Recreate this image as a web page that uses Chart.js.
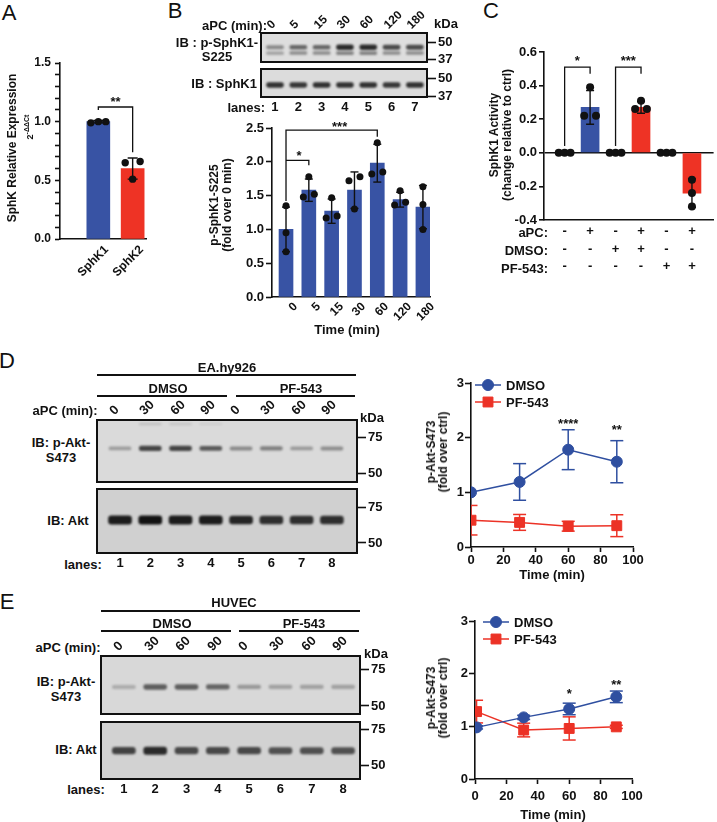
<!DOCTYPE html>
<html><head><meta charset="utf-8">
<script src="https://cdn.jsdelivr.net/npm/chart.js@4.4.1/dist/chart.umd.min.js"></script>
<style>
html,body{margin:0;padding:0;background:#fff;}
body{width:717px;height:822px;position:relative;overflow:hidden;}
canvas{position:absolute;}
.lb{position:absolute;white-space:nowrap;color:#111;}
.rl{position:absolute;white-space:nowrap;color:#111;}
.hl{position:absolute;height:1.6px;background:#111;}
</style></head><body>
<script>
// ================= DATA =================
// Panel A
const aCats = ['SphK1', 'SphK2'];
const aMeans = [1.00, 0.60];
const aSD = [0.01, 0.09];
const aPoints = [[0.99, 1.00, 1.00], [0.66, 0.65, 0.51]];
const aYTicks = [0, 0.1, 0.2, 0.3, 0.4, 0.5, 0.6, 0.7, 0.8, 0.9, 1.0, 1.1, 1.2, 1.3, 1.4, 1.5];

// Panel B
const bTimes = ['0', '5', '15', '30', '60', '120', '180'];
const bMeans = [1.00, 1.58, 1.27, 1.58, 1.98, 1.44, 1.33];
const bSD = [0.33, 0.165, 0.18, 0.27, 0.28, 0.11, 0.32];
const bPoints = [[1.35, 0.95, 0.67], [1.78, 1.52, 1.48], [1.47, 1.20, 1.17], [1.78, 1.72, 1.30],
                 [2.28, 1.85, 1.82], [1.57, 1.40, 1.36], [1.63, 1.37, 1.00]];
const bYTicks = [0, 0.5, 1.0, 1.5, 2.0, 2.5];
const bLanes = ['1', '2', '3', '4', '5', '6', '7'];
const bBandPUpper = [0.42, 0.58, 0.58, 0.88, 0.88, 0.72, 0.72];
const bBandPLower = [0.30, 0.40, 0.40, 0.45, 0.45, 0.40, 0.40];
const bBandTotal = [0.85, 0.82, 0.85, 0.85, 0.85, 0.82, 0.85];
const bKdaMarks = [50, 37];

// Panel C
const cMeans = [0, 0.27, 0, 0.27, 0, -0.24];
const cSD = [0, 0.10, 0, 0.035, 0, 0.085];
const cPoints = [[0, 0, 0], [0.39, 0.22, 0.22], [0, 0, 0], [0.31, 0.26, 0.26], [0, 0, 0], [-0.16, -0.24, -0.32]];
const cAPC = ['-', '+', '-', '+', '-', '+'];
const cDMSO = ['-', '-', '+', '+', '-', '-'];
const cPF = ['-', '-', '-', '-', '+', '+'];
const cYTicks = [-0.4, -0.2, 0, 0.2, 0.4, 0.6];

// Panel D
const akTimeLabels = ['0', '30', '60', '90', '0', '30', '60', '90'];
const akLanes = ['1', '2', '3', '4', '5', '6', '7', '8'];
const akKdaMarks = [75, 50];
const dBandPAkt = [0.30, 0.75, 0.75, 0.65, 0.40, 0.45, 0.32, 0.38];
const dBandFaint = [0, 0.12, 0.10, 0.07, 0, 0, 0, 0];
const dBandAkt = [0.95, 1.00, 0.95, 0.95, 0.90, 0.85, 0.85, 0.85];
const dTime = [0, 30, 60, 90];
const dDMSO = [1.00, 1.19, 1.78, 1.56];
const dDMSOsd = [0, 0.335, 0.365, 0.385];
const dPF = [0.49, 0.45, 0.38, 0.39];
const dPFsd = [0.27, 0.145, 0.09, 0.20];
const lineXTicks = [0, 20, 40, 60, 80, 100];
const lineYTicks = [0, 1, 2, 3];

// Panel E
const eBandPAkt = [0.22, 0.62, 0.62, 0.58, 0.32, 0.28, 0.28, 0.28];
const eBandAkt = [0.75, 0.88, 0.72, 0.72, 0.72, 0.68, 0.68, 0.68];
const eTime = [1, 31, 60, 90];
const eDMSO = [0.98, 1.17, 1.33, 1.56];
const eDMSOsd = [0.03, 0.04, 0.11, 0.11];
const ePF = [1.28, 0.93, 0.96, 0.99];
const ePFsd = [0.215, 0.13, 0.22, 0.03];

// ================= STYLE / HELPERS =================
const FONT = '"Liberation Sans", Arial, Helvetica, sans-serif';
const BLUE = '#3853a4', RED = '#ee3325', LBLUE = '#2f4fa0', LRED = '#ec3226', BLK = '#111';
const AXW = 1.6;

Chart.defaults.font.family = FONT;
Chart.defaults.font.size = 12;
Chart.defaults.font.weight = 'bold';
Chart.defaults.color = BLK;
Chart.defaults.animation = false;
Chart.defaults.events = [];
Chart.defaults.plugins.legend.display = false;
Chart.defaults.plugins.tooltip.enabled = false;

function canvasAt(x, y, w, h) {
  const c = document.createElement('canvas');
  c.width = Math.round(w); c.height = Math.round(h);
  c.style.left = Math.round(x) + 'px'; c.style.top = Math.round(y) + 'px';
  c.style.width = Math.round(w) + 'px'; c.style.height = Math.round(h) + 'px';
  document.body.appendChild(c);
  return c;
}
function txt(html, x, y, o = {}) {
  const d = document.createElement('div');
  d.className = 'lb';
  const s = o.size || 13, lh = o.lh || s;
  const tx = o.align === 'right' ? '-100%' : o.align === 'left' ? '0' : '-50%';
  d.style.left = x + 'px'; d.style.top = y + 'px';
  d.style.font = `${o.weight || 'bold'} ${s}px/${lh}px ${FONT}`;
  d.style.textAlign = o.ta || 'center';
  d.style.transform = `translate(${tx},-50%)` + (o.rot ? ` rotate(${o.rot}deg)` : '');
  d.innerHTML = html;
  document.body.appendChild(d);
}
function hline(x1, x2, y) {
  const d = document.createElement('div');
  d.className = 'hl';
  d.style.left = x1 + 'px'; d.style.top = (y - 0.8) + 'px'; d.style.width = (x2 - x1) + 'px';
  document.body.appendChild(d);
}
const ticksAt = arr => (s => { s.ticks = arr.map(v => ({value: v})); });

// 45-degree tick labels, anchored at the x scale's pixel for each value
function rotLabels(chart, cv, labels, values, o) {
  const sx = chart.scales.x, ca = chart.chartArea;
  const ox = parseFloat(cv.style.left), oy = parseFloat(cv.style.top);
  labels.forEach((lbl, i) => {
    const ax = ox + sx.getPixelForValue(values[i]) + (o.dx || 0);
    const ay = oy + (o.pos === 'top' ? ca.top - o.pad : ca.bottom + o.pad);
    const d = document.createElement('div');
    d.className = 'rl';
    d.textContent = lbl;
    d.style.font = `bold ${o.size}px/${o.size}px ${FONT}`;
    d.style.left = ax + 'px'; d.style.top = ay + 'px';
    if (o.pos === 'top') {
      d.style.transformOrigin = 'left bottom';
      d.style.transform = 'translate(0,-100%) rotate(-45deg)';
    } else {
      d.style.transformOrigin = 'right top';
      d.style.transform = 'translate(-100%,0) rotate(-45deg)';
    }
    document.body.appendChild(d);
  });
}

function jitterOffsets(vals, thr) {
  const idx = vals.map((v, i) => i).sort((a, b) => vals[a] - vals[b]);
  const off = new Array(vals.length).fill(0);
  let start = 0;
  for (let k = 1; k <= idx.length; k++) {
    if (k === idx.length || vals[idx[k]] - vals[idx[k - 1]] >= thr) {
      const cl = idx.slice(start, k), n = cl.length;
      cl.forEach((id, j) => { off[id] = n === 1 ? 0 : (j - (n - 1) / 2) * (2 / (n - 1)); });
      start = k;
    }
  }
  return off;
}
function pointSet(groups, thr, jitUnits, r) {
  const data = [];
  groups.forEach((vals, i) => {
    const off = jitterOffsets(vals, thr);
    vals.forEach((v, k) => data.push({x: i + off[k] * jitUnits, y: v}));
  });
  return {type: 'scatter', data, pointRadius: r, pointBackgroundColor: BLK, pointBorderColor: BLK,
          pointBorderWidth: 0, order: 1};
}
function errorSets(xs, means, sds, color, cap, lw) {
  const out = [];
  xs.forEach((x, i) => {
    if (!(sds[i] > 0)) return;
    out.push({type: 'scatter', showLine: true, order: 5,
      data: [{x, y: means[i] - sds[i]}, {x, y: means[i] + sds[i]}],
      borderColor: color, borderWidth: lw, pointStyle: 'line', pointRadius: cap,
      pointBorderColor: color, pointBackgroundColor: color, pointBorderWidth: lw});
  });
  return out;
}
function bracket(pts) {
  return {type: 'scatter', showLine: true, order: 0, data: pts, borderColor: BLK, borderWidth: 1.3,
          pointRadius: 0};
}

const annotPlugin = {
  id: 'annot',
  afterDatasetsDraw(chart, args, opts) {
    const items = (opts && opts.items) || [];
    const {ctx, scales: {x, y}} = chart;
    items.forEach(it => {
      const s = it.size || 13;
      ctx.save();
      ctx.font = `bold ${s}px ${FONT}`;
      ctx.fillStyle = BLK; ctx.textAlign = 'center'; ctx.textBaseline = 'alphabetic';
      ctx.fillText(it.text, x.getPixelForValue(it.x), y.getPixelForValue(it.y) + 0.5 * s);
      ctx.restore();
    });
  }
};
const legendPlugin = {
  id: 'lineLegend',
  afterDatasetsDraw(chart, args, opts) {
    if (!opts || !opts.items || !opts.items.length) return;
    const {ctx, chartArea: ca} = chart;
    opts.items.forEach((it, i) => {
      const ds = chart.data.datasets[it.ds];
      const x0 = ca.left + opts.left, y0 = ca.top + opts.top + i * opts.gap;
      ctx.save();
      ctx.strokeStyle = ds.borderColor; ctx.lineWidth = ds.borderWidth;
      ctx.beginPath(); ctx.moveTo(x0, y0); ctx.lineTo(x0 + opts.len, y0); ctx.stroke();
      ctx.fillStyle = ds.pointBackgroundColor; ctx.strokeStyle = ds.pointBorderColor; ctx.lineWidth = 1;
      const cx = x0 + opts.len / 2;
      if (Chart.helpers && Chart.helpers.drawPoint) {
        Chart.helpers.drawPoint(ctx, {pointStyle: ds.pointStyle, radius: ds.pointRadius, borderWidth: 1, rotation: 0}, cx, y0);
      } else {
        ctx.beginPath();
        if (ds.pointStyle === 'rect') { const h = ds.pointRadius * Math.SQRT1_2; ctx.rect(cx - h, y0 - h, 2 * h, 2 * h); }
        else ctx.arc(cx, y0, ds.pointRadius, 0, Math.PI * 2);
        ctx.fill();
      }
      ctx.fillStyle = BLK; ctx.font = `bold ${opts.size}px ${FONT}`;
      ctx.textBaseline = 'middle'; ctx.textAlign = 'left';
      ctx.fillText(it.text, x0 + opts.len + opts.textGap, y0 + 1);
      ctx.restore();
    });
  }
};
// blot background, blurred bands and frame
function makeBlotPlugin(cfg) {
  return {
    id: 'blotDraw',
    beforeDatasetsDraw(chart) {
      const {ctx, chartArea: c} = chart;
      ctx.save();
      ctx.fillStyle = cfg.bg; ctx.fillRect(c.left, c.top, c.width, c.height);
      ctx.restore();
      ctx.save();
      ctx.filter = `blur(${cfg.blur}px)`;
    },
    afterDatasetsDraw(chart) {
      const {ctx, chartArea: c} = chart;
      ctx.restore();
      ctx.save();
      ctx.filter = 'none';
      ctx.strokeStyle = BLK; ctx.lineWidth = 2;
      ctx.strokeRect(c.left, c.top, c.width, c.height);
      ctx.restore();
    }
  };
}

// standard chart: left y axis, bottom x axis, plot rectangle given in page pixels
function axisChart(o) {
  const P = o.plot, yw = o.yw, pt = o.pt, pr = o.pr, xh = o.xh;
  const cv = canvasAt(P.L - yw, P.T - pt, P.R - P.L + yw + pr, P.B - P.T + pt + xh);
  const xs = Object.assign({
    type: 'linear', position: 'bottom', bounds: 'data', offset: false,
    afterFit: s => { s.height = xh; },
    border: {display: true, color: BLK, width: AXW},
    grid: {drawOnChartArea: false, offset: false, drawTicks: !!o.xTickLen, tickLength: o.xTickLen || 0,
           tickColor: BLK, tickWidth: AXW}
  }, o.x);
  const ys = Object.assign({
    type: 'linear', position: 'left', bounds: 'data',
    afterFit: s => { s.width = yw; },
    border: {display: true, color: BLK, width: AXW},
    grid: Object.assign({drawOnChartArea: false, drawTicks: true, tickLength: o.yTickLen || 5,
           tickColor: BLK, tickWidth: AXW}, o.yGrid || {})
  }, o.y);
  const ch = new Chart(cv, {
    type: o.type || 'bar',
    data: {datasets: o.datasets},
    options: {
      responsive: false, maintainAspectRatio: false,
      layout: {padding: {left: 0, top: pt, right: pr, bottom: 0}},
      scales: {x: xs, y: ys},
      plugins: {annot: {items: o.annot || []}, lineLegend: o.legend || {items: []}}
    },
    plugins: [annotPlugin, legendPlugin]
  });
  if (o.rot) rotLabels(ch, cv, o.rot.labels, o.rot.labels.map((l, i) => i), o.rot);
  return ch;
}

// western-blot panel drawn as floating bars on a lane x scale and a log kDa scale
function blotChart(b) {
  const [L, T, R, B] = b.box;
  const pl = 2, pr = 4, yw = 32;
  const top = !!b.topLabels, bottom = !!b.bottomLabels;
  const xh = top ? 30 : bottom ? 22 : 0;
  const pt = top ? 0 : 12, pb = bottom ? 0 : 12;
  const cy = top ? T - xh : T - pt;
  const h = (B - T) + (top ? xh : pt) + (bottom ? xh : pb);
  const cv = canvasAt(L - pl, cy, (R - L) + pl + yw + pr, h);
  const nLanes = b.bands[0].ints.length;
  const lanes = Array.from({length: nLanes}, (_, i) => i + 1);
  const ch = new Chart(cv, {
    type: 'bar',
    data: {datasets: b.bands.map(bd => ({
      type: 'bar', grouped: false, barThickness: b.barW, borderRadius: 3, borderSkipped: false,
      data: bd.ints.map((v, i) => {
        const f = 1 + bd.spread * (0.4 + 0.6 * v);
        return {x: i + 1, y: [bd.kda / f, bd.kda * f]};
      }),
      backgroundColor: bd.ints.map(v => `rgba(18,18,18,${Math.min(1, v)})`)
    }))},
    options: {
      responsive: false, maintainAspectRatio: false,
      layout: {padding: {left: pl, right: pr, top: pt, bottom: pb}},
      scales: {
        x: {type: 'linear', position: top ? 'top' : 'bottom', display: top || bottom, bounds: 'data',
            min: b.xmin, max: b.xmax, offset: false,
            afterBuildTicks: ticksAt(lanes), afterFit: s => { s.height = xh; },
            grid: {display: false, drawTicks: false}, border: {display: false},
            ticks: {autoSkip: false, display: bottom, maxRotation: 0, minRotation: 0,
                    padding: 3, font: {size: 13}, callback: (v, i) => (b.bottomLabels || [])[i]}},
        y: {type: 'logarithmic', position: 'right', bounds: 'data', min: b.kBot, max: b.kTop,
            afterBuildTicks: ticksAt(b.marks), afterFit: s => { s.width = yw; },
            grid: {drawOnChartArea: false, drawTicks: true, tickLength: 9, tickColor: BLK, tickWidth: 1.6},
            border: {display: false},
            ticks: {autoSkip: false, padding: 2, font: {size: 13}, callback: v => String(v)}}
      }
    },
    plugins: [makeBlotPlugin(b)]
  });
  if (top) rotLabels(ch, cv, b.topLabels, lanes, {pos: 'top', pad: b.rotPad, dx: b.rotDx, size: b.rotSize});
  return ch;
}

// ================= PANEL LETTERS =================
txt('A', 9, 12.5, {size: 22, weight: 'normal'});
txt('B', 175, 11, {size: 22, weight: 'normal'});
txt('C', 491, 11, {size: 22, weight: 'normal'});
txt('D', 7, 361, {size: 22, weight: 'normal'});
txt('E', 7, 602, {size: 22, weight: 'normal'});

// ================= PANEL A =================
(function () {
  const P = {L: 60, T: 63, R: 147, B: 239};
  const xmin = -1.116, xmax = 1.406;
  const unitPx = (P.R - P.L) / (xmax - xmin);
  axisChart({
    plot: P, yw: 60, pt: 12, pr: 6, xh: 36, yTickLen: 5,
    x: {min: xmin, max: xmax, afterBuildTicks: ticksAt(aCats.map((c, i) => i)),
        ticks: {display: false}},
    y: {min: 0, max: 1.5, afterBuildTicks: ticksAt(aYTicks),
        ticks: {autoSkip: false, padding: 4, font: {size: 12},
                callback: v => Math.abs(v * 2 - Math.round(v * 2)) < 1e-6 ? (+v).toFixed(1) : ''}},
    datasets: [
      {type: 'bar', order: 10, barThickness: 23, data: aMeans.map((m, i) => ({x: i, y: m})),
       backgroundColor: [BLUE, RED]},
      ...errorSets(aCats.map((c, i) => i), aMeans, aSD, BLK, 5, 1.4),
      pointSet(aPoints, 0.04 * 1.5, 7.5 / unitPx, 3.7),
      bracket([{x: 0, y: 1.10}, {x: 0, y: 1.125}, {x: 1, y: 1.125}, {x: 1, y: 0.74}])
    ],
    annot: [{text: '**', x: 0.5, y: 1.19}],
    rot: {labels: aCats, pos: 'bottom', pad: 4, dx: 4, size: 12}
  });
  txt('SphK Relative Expression', 12, 148, {size: 12, rot: -90});
  txt('2<sup style="font-size:7px;line-height:0">-ΔΔCt</sup>', 30, 127, {size: 9, rot: -90});
})();

// ================= PANEL B =================
blotChart({box: [261, 33, 427, 62], xmin: 0.4, xmax: 7.52, kTop: 58.7, kBot: 35.1, marks: bKdaMarks,
  bands: [{kda: 45.6, spread: 0.045, ints: bBandPUpper}, {kda: 41.1, spread: 0.04, ints: bBandPLower}],
  barW: 17, bg: '#dedede', blur: 0.8, topLabels: bTimes, rotPad: 2, rotDx: -2, rotSize: 12});
blotChart({box: [261, 69, 427, 97], xmin: 0.4, xmax: 7.52, kTop: 58.2, kBot: 36.4, marks: bKdaMarks,
  bands: [{kda: 44.5, spread: 0.045, ints: bBandTotal}],
  barW: 17, bg: '#dcdcdc', blur: 0.8, bottomLabels: bLanes});
txt('aPC (min):', 267, 25, {align: 'right'});
txt('IB : p-SphK1-<br>S225', 217, 50, {lh: 14});
txt('IB : SphK1', 257, 83, {align: 'right'});
txt('lanes:', 265, 107, {align: 'right'});
txt('kDa', 446, 23);

(function () {
  const P = {L: 272, T: 128, R: 430, B: 297};
  const xmin = -0.614, xmax = 6.31;
  const unitPx = (P.R - P.L) / (xmax - xmin);
  axisChart({
    plot: P, yw: 40, pt: 12, pr: 12, xh: 26, yTickLen: 6,
    x: {min: xmin, max: xmax, afterBuildTicks: ticksAt(bTimes.map((t, i) => i)),
        ticks: {display: false}},
    y: {min: 0, max: 2.5, afterBuildTicks: ticksAt(bYTicks),
        ticks: {autoSkip: false, padding: 2, font: {size: 13}, callback: v => (+v).toFixed(1)}},
    datasets: [
      {type: 'bar', order: 10, barThickness: 14, data: bMeans.map((m, i) => ({x: i, y: m})),
       backgroundColor: BLUE},
      ...errorSets(bTimes.map((t, i) => i), bMeans, bSD, BLK, 4, 1.4),
      pointSet(bPoints, 0.04 * 2.5, 5.5 / unitPx, 3.5),
      bracket([{x: 0, y: 1.42}, {x: 0, y: 2.47}, {x: 4, y: 2.47}, {x: 4, y: 2.37}]),
      bracket([{x: 0, y: 2.02}, {x: 1, y: 2.02}, {x: 1, y: 1.95}])
    ],
    annot: [{text: '*', x: 0.57, y: 2.13}, {text: '***', x: 2.35, y: 2.55}],
    rot: {labels: bTimes, pos: 'bottom', pad: 3, dx: 5, size: 12}
  });
  txt('p-SphK1-S225<br>(fold over 0 min)', 221, 205, {size: 12, lh: 13, rot: -90});
  txt('Time (min)', 347, 329);
})();

// ================= PANEL C =================
(function () {
  const P = {L: 544, T: 52, R: 717, B: 220};
  const xmin = -0.81, xmax = 5.85;
  const unitPx = (P.R - P.L) / (xmax - xmin);
  axisChart({
    plot: P, yw: 40, pt: 12, pr: 2, xh: 60, yTickLen: 5,
    x: {min: xmin, max: xmax, afterBuildTicks: ticksAt(cMeans.map((m, i) => i)),
        ticks: {autoSkip: false, maxRotation: 0, minRotation: 0, padding: 3,
                font: {size: 13, lineHeight: 1.35},
                callback: (v, i) => [cAPC[i], cDMSO[i], cPF[i]]}},
    y: {min: -0.4, max: 0.6, afterBuildTicks: ticksAt(cYTicks),
        ticks: {autoSkip: false, padding: 2, font: {size: 13}, callback: v => (+v).toFixed(1)}},
    yGrid: {drawOnChartArea: true,
            color: c => (c.tick && Math.abs(c.tick.value) < 1e-9) ? BLK : 'rgba(0,0,0,0)', lineWidth: 1.6},
    datasets: [
      {type: 'bar', order: 10, barThickness: 18, data: cMeans.map((m, i) => ({x: i, y: m})),
       backgroundColor: [BLUE, BLUE, RED, RED, RED, RED]},
      ...errorSets(cMeans.map((m, i) => i), cMeans, cSD, BLK, 4, 1.4),
      pointSet(cPoints, 0.04 * 1.0, 6 / unitPx, 4),
      bracket([{x: 0, y: 0.04}, {x: 0, y: 0.51}, {x: 1, y: 0.51}, {x: 1, y: 0.47}]),
      bracket([{x: 2, y: 0.04}, {x: 2, y: 0.51}, {x: 3, y: 0.51}, {x: 3, y: 0.47}])
    ],
    annot: [{text: '*', x: 0.5, y: 0.56}, {text: '***', x: 2.5, y: 0.56}]
  });
  txt('SphK1 Activity<br>(change relative to ctrl)', 501, 135, {size: 12, lh: 13, rot: -90});
  txt('aPC:', 548, 232, {align: 'right'});
  txt('DMSO:', 548, 250, {align: 'right'});
  txt('PF-543:', 548, 268, {align: 'right'});
})();

// ================= PANEL D =================
txt('EA.hy926', 227, 367);
hline(97, 356, 375);
txt('DMSO', 168, 388); hline(97, 227, 396);
txt('PF-543', 301, 388); hline(236, 355, 396);
txt('aPC (min):', 65, 410);
txt('kDa', 372, 417);
txt('IB: p-Akt-<br>S473', 61, 450, {lh: 15});
txt('IB: Akt', 68, 520);
txt('lanes:', 83, 564);
blotChart({box: [97, 420, 357, 482], xmin: 0.24, xmax: 8.83, kTop: 90.9, kBot: 45.2, marks: akKdaMarks,
  bands: [{kda: 66, spread: 0.03, ints: dBandPAkt}, {kda: 86.9, spread: 0.02, ints: dBandFaint}],
  barW: 22, bg: '#dadada', blur: 1.2, topLabels: akTimeLabels, rotPad: 3, rotDx: -4, rotSize: 13});
blotChart({box: [97, 489, 357, 553], xmin: 0.24, xmax: 8.83, kTop: 92.6, kBot: 44.6, marks: akKdaMarks,
  bands: [{kda: 65, spread: 0.05, ints: dBandAkt}],
  barW: 23, bg: '#d0d0d0', blur: 1.2, bottomLabels: akLanes});

function lineChart(P, yw, xPad, xs, d1, s1, d2, s2, annot, legend) {
  axisChart({
    type: 'scatter', plot: P, yw: yw, pt: 12, pr: 16, xh: 24, yTickLen: 6, xTickLen: 5,
    x: {min: 0, max: 100, afterBuildTicks: ticksAt(lineXTicks),
        ticks: {autoSkip: false, maxRotation: 0, padding: xPad, font: {size: 13}, callback: v => String(v)}},
    y: {min: 0, max: 3, afterBuildTicks: ticksAt(lineYTicks),
        ticks: {autoSkip: false, padding: 1, font: {size: 13}, callback: v => String(v)}},
    datasets: [
      {type: 'scatter', showLine: true, order: 1, data: xs.map((t, i) => ({x: t, y: d1[i]})),
       borderColor: LBLUE, borderWidth: 1.5, pointStyle: 'circle', pointRadius: 5.5,
       pointBackgroundColor: LBLUE, pointBorderColor: LBLUE, pointBorderWidth: 1},
      {type: 'scatter', showLine: true, order: 2, data: xs.map((t, i) => ({x: t, y: d2[i]})),
       borderColor: LRED, borderWidth: 1.5, pointStyle: 'rect', pointRadius: 7,
       pointBackgroundColor: LRED, pointBorderColor: LRED, pointBorderWidth: 1},
      ...errorSets(xs, d1, s1, LBLUE, 6.5, 1.5),
      ...errorSets(xs, d2, s2, LRED, 6.5, 1.5)
    ],
    annot: annot,
    legend: legend
  });
}
lineChart({L: 471, T: 383, R: 633, B: 547}, 30, 1, dTime, dDMSO, dDMSOsd, dPF, dPFsd,
  [{text: '****', x: 60, y: 2.30}, {text: '**', x: 90, y: 2.19}],
  {items: [{ds: 0, text: 'DMSO'}, {ds: 1, text: 'PF-543'}], left: 4, top: 2, gap: 17, len: 26,
   textGap: 5, size: 13});
txt('p-Akt-S473<br>(fold over ctrl)', 437, 452, {size: 12, lh: 12, rot: -90});
txt('Time (min)', 552, 574);

// ================= PANEL E =================
txt('HUVEC', 234, 602);
hline(101, 360, 611);
txt('DMSO', 172, 623); hline(101, 231, 631);
txt('PF-543', 304, 623); hline(239, 359, 631);
txt('aPC (min):', 68, 647);
txt('kDa', 376, 653);
txt('IB: p-Akt-<br>S473', 66, 689, {lh: 15});
txt('IB: Akt', 76, 749);
txt('lanes:', 86, 789);
blotChart({box: [101, 656, 360, 714], xmin: 0.27, xmax: 8.54, kTop: 87.6, kBot: 45.7, marks: akKdaMarks,
  bands: [{kda: 61.9, spread: 0.035, ints: eBandPAkt}],
  barW: 23, bg: '#d8d8d8', blur: 1.3, topLabels: akTimeLabels, rotPad: 3, rotDx: -4, rotSize: 13});
blotChart({box: [101, 722, 360, 779], xmin: 0.27, xmax: 8.54, kTop: 81.6, kBot: 43.1, marks: akKdaMarks,
  bands: [{kda: 59.2, spread: 0.045, ints: eBandAkt}],
  barW: 23, bg: '#d2d2d2', blur: 1.3, bottomLabels: akLanes});
lineChart({L: 475, T: 621, R: 632, B: 779}, 30, 5, eTime, eDMSO, eDMSOsd, ePF, ePFsd,
  [{text: '*', x: 60, y: 1.66}, {text: '**', x: 90, y: 1.83}],
  {items: [{ds: 0, text: 'DMSO'}, {ds: 1, text: 'PF-543'}], left: 8, top: 1, gap: 17, len: 26,
   textGap: 5, size: 13});
txt('p-Akt-S473<br>(fold over ctrl)', 437, 698, {size: 12, lh: 12, rot: -90});
txt('Time (min)', 553, 814);
</script>
</body></html>
